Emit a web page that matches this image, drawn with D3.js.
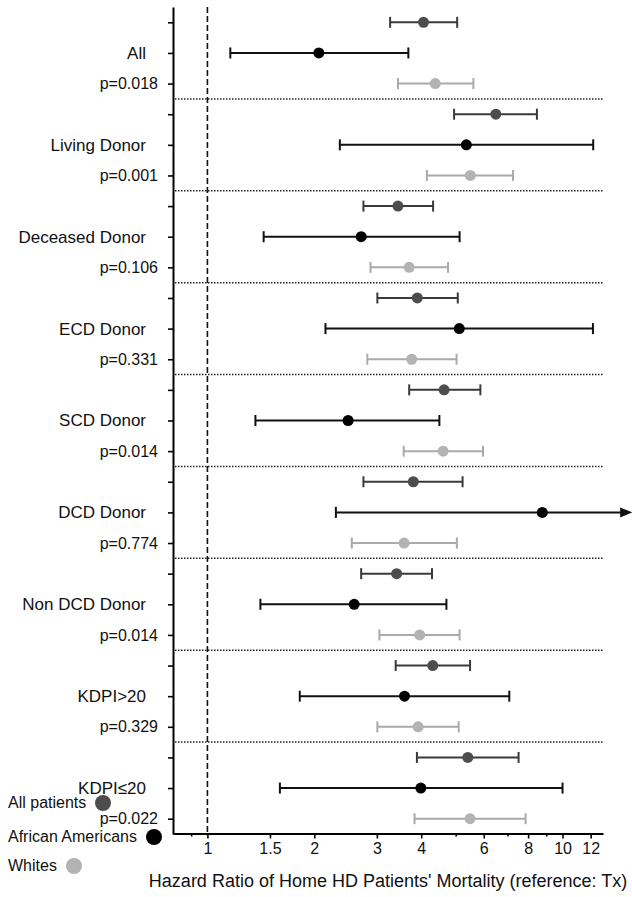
<!DOCTYPE html>
<html>
<head>
<meta charset="utf-8">
<script src="https://cdn.jsdelivr.net/npm/d3@7/dist/d3.min.js"></script>
<style>
  html, body { margin: 0; padding: 0; background: #fff; }
  svg { display: block; font-family: "Liberation Sans", Arial, Helvetica, sans-serif; }
</style>
</head>
<body>
<svg id="chart" width="632" height="897"></svg>
<script>
// ---------------- DATA ----------------
const categories = ["All", "Living Donor", "Deceased Donor", "ECD Donor", "SCD Donor",
  "DCD Donor", "Non DCD Donor", "KDPI>20", "KDPI\u226420"];
const pLabels = ["p=0.018", "p=0.001", "p=0.106", "p=0.331", "p=0.014",
  "p=0.774", "p=0.014", "p=0.329", "p=0.022"];
const seriesNames = ["All patients", "African Americans", "Whites"];

// All patients
const allHR   = [4.06, 6.49, 3.44, 3.90, 4.64, 3.80, 3.41, 4.31, 5.41];
const allLow  = [3.27, 4.95, 2.75, 3.01, 3.70, 2.75, 2.71, 3.39, 3.89];
const allHigh = [5.05, 8.47, 4.32, 5.07, 5.87, 5.23, 4.29, 5.49, 7.52];
// African Americans
const aaHR    = [2.06, 5.36, 2.71, 5.12, 2.49, 8.77, 2.59, 3.59, 3.99];
const aaLow   = [1.16, 2.36, 1.44, 2.15, 1.365, 2.30, 1.41, 1.82, 1.60];
const aaHigh  = [3.68, 12.2, 5.13, 12.18, 4.50, 15.7, 4.71, 7.08, 10.0];
// Whites
const whHR    = [4.38, 5.50, 3.70, 3.76, 4.61, 3.58, 3.96, 3.92, 5.49];
const whLow   = [3.44, 4.15, 2.88, 2.82, 3.57, 2.55, 3.05, 3.01, 3.83];
const whHigh  = [5.61, 7.25, 4.76, 5.03, 5.97, 5.04, 5.13, 5.10, 7.87];

const xTickValues = [1, 1.5, 2, 3, 4, 6, 8, 10, 12];
const xTickLabels = ["1", "1.5", "2", "3", "4", "6", "8", "10", "12"];
const xMinorTicks = [0.9, 5, 7, 9];
const xDomain = [0.8, 13];
const xTitle = "Hazard Ratio of Home HD Patients' Mortality (reference: Tx)";

// ---------------- STYLE ----------------
const fillColors = ["#4d4d4d", "#000000", "#b3b3b3"];
const barColors  = ["#3a3a3a", "#111111", "#aaaaaa"];

// ---------------- BUILD ----------------
const series = [
  { hr: allHR, lo: allLow, hi: allHigh },
  { hr: aaHR,  lo: aaLow,  hi: aaHigh },
  { hr: whHR,  lo: whLow,  hi: whHigh }
];
const rows = [];
categories.forEach((c, i) => {
  series.forEach((s, k) => {
    rows.push({ cat: i, s: k, row: i * 3 + k, hr: s.hr[i], lo: s.lo[i], hi: s.hi[i] });
  });
});
const nRows = categories.length * 3;

const svg = d3.select("#chart");
const plotLeft = 173, plotRight = 603, plotTop = 7, plotBottom = 834;

const x = d3.scaleLog().domain(xDomain).range([plotLeft, plotRight]);
const y = d3.scaleLinear().domain([-0.5, nRows - 0.5]).range([plotTop, plotBottom]);

// separators (dotted)
for (let i = 1; i < categories.length; i++) {
  svg.append("line")
    .attr("x1", plotLeft + 2).attr("x2", plotRight)
    .attr("y1", y(i * 3 - 0.5)).attr("y2", y(i * 3 - 0.5))
    .attr("stroke", "#222").attr("stroke-width", 1.5)
    .attr("stroke-dasharray", "1.5,1.5");
}

// reference dashed line at HR = 1
svg.append("line")
  .attr("x1", x(1)).attr("x2", x(1))
  .attr("y1", y(-0.5)).attr("y2", y(nRows - 0.5))
  .attr("stroke", "#111").attr("stroke-width", 1.6)
  .attr("stroke-dasharray", "6,3");

// y axis
const yAxis = d3.axisLeft(y).tickValues(d3.range(nRows)).tickSize(5).tickSizeOuter(0).tickFormat("");
const gy = svg.append("g").attr("transform", `translate(${plotLeft},0)`).call(yAxis);
gy.select(".domain").attr("stroke", "#000").attr("stroke-width", 2);
gy.selectAll(".tick line").attr("stroke", "#000").attr("stroke-width", 1.6);

// x axis (major)
const xAxis = d3.axisBottom(x).tickValues(xTickValues).tickSize(5).tickSizeOuter(0)
  .tickFormat((d, i) => xTickLabels[i]);
const gx = svg.append("g").attr("transform", `translate(0,${plotBottom - 0.5})`).call(xAxis);
gx.select(".domain").attr("stroke", "#000").attr("stroke-width", 2);
gx.selectAll(".tick line").attr("stroke", "#000").attr("stroke-width", 1.6);
gx.selectAll(".tick text").attr("y", 9).attr("dy", "0.71em")
  .attr("font-size", 16).attr("fill", "#111")
  .attr("font-family", "'Liberation Sans', Arial, sans-serif");
// x axis (minor)
const xMinor = d3.axisBottom(x).tickValues(xMinorTicks).tickSize(3).tickSizeOuter(0).tickFormat("");
const gxm = svg.append("g").attr("transform", `translate(0,${plotBottom - 0.5})`).call(xMinor);
gxm.select(".domain").remove();
gxm.selectAll(".tick line").attr("stroke", "#000").attr("stroke-width", 1.6);

// x title
svg.append("text")
  .attr("x", (plotLeft + plotRight) / 2).attr("y", 887)
  .attr("text-anchor", "middle").attr("font-size", 18).attr("fill", "#111")
  .text(xTitle);

// category labels and p-values
categories.forEach((c, i) => {
  svg.append("text")
    .attr("x", 146).attr("y", y(i * 3 + 1)).attr("dy", "0.35em")
    .attr("text-anchor", "end").attr("font-size", 17).attr("fill", "#111")
    .text(c);
  svg.append("text")
    .attr("x", 158).attr("y", y(i * 3 + 2)).attr("dy", "0.35em")
    .attr("text-anchor", "end").attr("font-size", 16).attr("fill", "#111")
    .text(pLabels[i]);
});

// error bars
const xMax = xDomain[1];
const capH = 5.5;
const g = svg.append("g");
rows.forEach(r => {
  const cy = y(r.row);
  const col = barColors[r.s];
  const arrow = r.hi > xMax;
  const xEnd = arrow ? x(r.hi) - 11 : x(r.hi);
  g.append("line").attr("x1", x(r.lo)).attr("x2", xEnd).attr("y1", cy).attr("y2", cy)
    .attr("stroke", col).attr("stroke-width", 2);
  g.append("line").attr("x1", x(r.lo)).attr("x2", x(r.lo)).attr("y1", cy - capH).attr("y2", cy + capH)
    .attr("stroke", col).attr("stroke-width", 2);
  if (arrow) {
    const tip = x(r.hi);
    g.append("path")
      .attr("d", `M${tip},${cy} L${tip - 12},${cy - 5} L${tip - 12},${cy + 5} Z`)
      .attr("fill", col);
  } else {
    g.append("line").attr("x1", x(r.hi)).attr("x2", x(r.hi)).attr("y1", cy - capH).attr("y2", cy + capH)
      .attr("stroke", col).attr("stroke-width", 2);
  }
  g.append("circle").attr("cx", x(r.hr)).attr("cy", cy).attr("r", 5.5)
    .attr("fill", fillColors[r.s]);
});

// legend
const legendBaselines = [808, 842, 871];
const legendCircleX = [103, 154, 74];
const legendCircleY = [803, 837, 866];
seriesNames.forEach((n, k) => {
  svg.append("text").attr("x", 8).attr("y", legendBaselines[k])
    .attr("font-size", 16).attr("fill", "#111").text(n);
  svg.append("circle").attr("cx", legendCircleX[k]).attr("cy", legendCircleY[k]).attr("r", 8)
    .attr("fill", fillColors[k]);
});
</script>
</body>
</html>
